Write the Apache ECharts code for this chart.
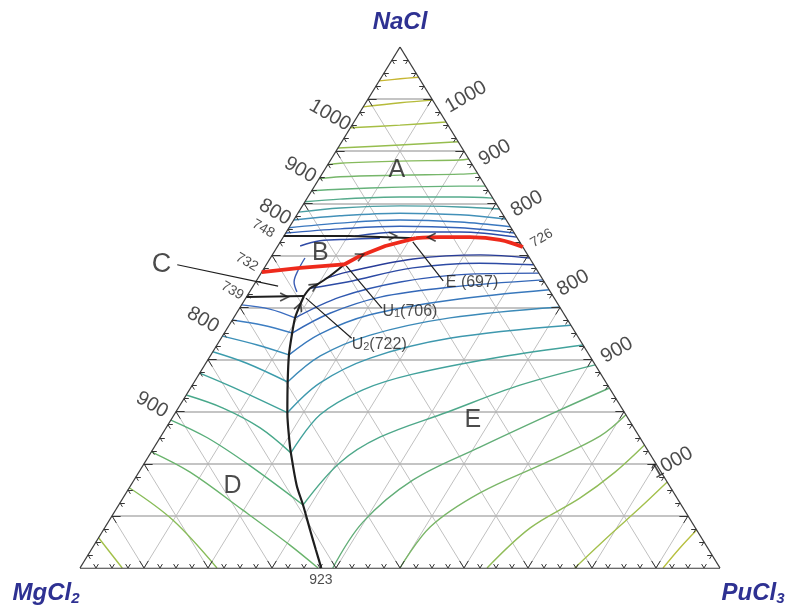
<!DOCTYPE html>
<html><head><meta charset="utf-8">
<script src="https://cdn.jsdelivr.net/npm/echarts/dist/echarts.min.js"></script>
<style>html,body{margin:0;padding:0;background:#fff}#c{width:788px;height:606px}</style>
</head><body><div id="c"></div>
<script>
// All compositions are mole % pairs [PuCl3, NaCl]; MgCl2 = 100 - PuCl3 - NaCl
const isoA = [
 [[0,93.5],[3.1,93.9],[5.8,94.2]],
 [[0,88.5],[5.4,89.3],[10.2,89.8]],
 [[0,84.5],[7.5,85.0],[14.4,85.6]],
 [[0,80.6],[9.4,81.2],[18.2,81.8]],
 [[0,77.4],[1.8,77.7],[10.9,78.1],[20.2,78.3],[21.5,78.5]],
 [[0,74.7],[3.1,75.1],[12.3,75.4],[21.6,75.6],[24.2,75.8]],
 [[0,72.4],[4.3,72.7],[13.4,73.1],[22.7,73.3],[26.7,73.3]],
 [[0,70.3],[5.2,70.8],[14.4,71.2],[23.8,71.2],[29.0,71.0]],
 [[0,68.3],[6.1,69.1],[15.3,69.5],[24.7,69.3],[31.1,68.9]],
 [[0,66.8],[6.8,67.6],[15.9,68.1],[25.5,67.8],[33.0,67.0]],
 [[0,65.3],[7.5,66.2],[16.6,66.8],[26.2,66.4],[34.5,65.5]],
 [[0,64.3],[8.1,65.1],[17.2,65.6],[26.7,65.3],[35.7,64.3]],
 [[11.1,63.7],[17.8,64.5],[27.1,64.5],[36.5,63.5]]
];
const isoB = [
 [[3.5,61.8],[6.1,62.8],[10.6,63.1],[15.2,63.3]],
 [[5.4,59.5],[5.5,57.2],[6.0,54.9],[7.4,53.0]]
];
const isoD = [
 [[0,50.5],[4.8,49.7],[9.6,48.0]],
 [[0,47.6],[5.3,46.6],[10.6,45.1]],
 [[0,44.5],[6.3,42.8],[12.2,40.9]],
 [[0,41.5],[6.4,39.3],[14.6,35.7]],
 [[0,37.4],[6.5,34.7],[17.5,29.8]],
 [[0,33.2],[7.0,30.7],[14.7,26.9],[21.9,22.1]],
 [[0,28.4],[7.4,25.0],[16.8,19.6],[28.8,12.1]],
 [[0,22.3],[8.0,18.4],[19.9,11.1],[30.6,4.4],[37.2,0]],
 [[0,15.4],[9.9,9.2],[21.4,0]],
 [[0,5.8],[6.6,0]]
];
const isoE = [
 [[10.5,55.5],[13.3,56.8],[22.4,59.3],[32.5,60.1],[40.5,59.5]],
 [[9.1,53.7],[14.3,54.9],[23.2,57.6],[33.2,58.5],[41.8,58.2]],
 [[9.6,48.0],[14.6,52.0],[22.6,54.9],[32.7,56.4],[43.4,56.6]],
 [[10.6,45.1],[14.6,48.9],[20.9,52.0],[30.8,53.9],[44.7,55.3]],
 [[12.2,40.9],[15.0,44.9],[21.0,48.6],[32.1,51.4],[46.6,53.4]],
 [[14.6,35.7],[17.2,40.7],[23.0,44.7],[33.8,48.0],[49.9,50.1]],
 [[17.5,29.8],[19.7,35.5],[25.2,40.3],[35.7,44.1],[53.4,46.6]],
 [[21.9,22.1],[22.8,29.4],[27.1,34.2],[33.4,37.2],[45.4,40.5],[57.2,42.8]],
 [[28.8,12.1],[30.5,20.2],[34.3,25.1],[42.4,29.9],[51.2,35.1],[61.0,39.0]],
 [[39.5,0],[39.8,8.8],[43.6,16.9],[50.9,23.2],[59.8,30.3],[65.4,34.5]],
 [[50,0],[50.8,7.9],[55.3,14.4],[62.8,20.3],[68.6,25.3],[70.6,29.4]],
 [[63.6,0],[66.5,7.7],[71.4,13.4],[74.4,18.4],[76.4,23.6]],
 [[77.3,0],[79.6,6.3],[81.7,11.5],[83.5,16.5]],
 [[91.1,0],[91.8,3.8],[92.7,7.3]]
];
// invariant / univariant lines
const red732 = [[0,56.8],[5.6,57.6],[11.2,58.2],[12.2,58.3],[13.8,59.9],[16.8,61.8],[20.8,63.3]];
const red726 = [[38.4,61.6],[34.1,63.0],[29.2,63.5],[24.5,63.5],[20.8,63.3]];
const line748 = [[0,63.7],[10.3,63.7],[20.8,63.3]];
const line739 = [[0,52.0],[8.9,52.2]];
const lineU2U1 = [[8.9,52.2],[9.1,53.7],[9.9,54.5],[11.0,56.0],[12.2,58.3]];
const lineDE = [[8.9,52.2],[9.2,50.1],[9.6,48.0],[10.6,45.1],[12.2,40.9],[14.6,35.7],[17.5,29.8],[20.4,24.6],[21.9,22.1],[25.9,15.9],[28.8,12.1],[32.3,7.3],[35.1,3.5],[37.7,0]];
const arrowPts = [[17.0,63.7],[5.9,52.0],[9.5,54.1],[13.8,59.9],[23.2,63.5],[9.2,50.1]];
const leaders = [
 [[20.7,62.6],[29.2,55.1]],
 [[12.6,58.0],[22.2,49.9]],
 [[9.4,51.8],[20.4,44.1]],
 [[-13.9,58.2],[3.9,54.1]]
];
const regionNames = ['A','B','C','D','E'];
const pointNames = ['E (697)','U{s|1}(706)','U{s|2}(722)','923'];
const tempsLeft = ['1000','900','800','748','732','739','800','900'];
const tempsRight = ['1000','900','800','726','800','900','1000'];

// ---------- layout / style ----------
const isoColA = ['#c6b632','#b6bb3a','#a6be44','#96bd4e','#86ba5c','#76b66a','#66b27a','#56aa8c','#4a9ea2','#4290b8','#3a78bf','#3462b8','#2c4ca8'];
const isoColB = ['#2f4aa6','#3a5cb4'];
const isoColD = ['#3a6cc0','#3d7ec2','#3c90b8','#3c9cac','#40a29a','#48a88a','#58ae7a','#6ab46c','#88bc58','#a2c048'];
const isoColE = ['#283c98','#2c4aa4','#3058b0','#3468b8','#3878bc','#3c8ab8','#3e98ae','#42a29c','#4ea88a','#62ae78','#7ab668','#90bc58','#a4c04c','#b8c040'];
const arrowDir = [0,0,32,25,180,68];
const regionPos = [[11.3,76.4],[7.3,60.5],[-16.4,58.3],[16.0,15.7],[47.2,28.4]];
const pointPos = [[33.9,54.7],[26.9,49.3],[25.3,42.9],[38.8,-2.3]];
const leftPos = [[-4.4,86.9],[-3.8,76.4],[-3.7,68.3],[-3.9,65.1],[-3.3,58.7],[-2.8,53.2],[-4.6,47.6],[-4.4,31.3]];
const rightPos = [[15.1,90.4],[25.0,79.7],[34.9,69.9],[40.5,63.3],[49.7,54.7],[63.0,41.8],[82.4,20.2]];
const FONT = '"Liberation Sans", Arial, Helvetica, sans-serif';

const P = ([pu, na]) => [(pu + na / 2) / 100, na / 100];

function lineS(pts, color, width, z, smooth) {
  return {type:'line', data: pts.map(P), showSymbol:false, symbol:'none', smooth: smooth || 0,
    lineStyle:{color, width}, z, silent:true, clip:false, animation:false};
}
function segS(segs, color, width, z) {
  return {type:'lines', coordinateSystem:'cartesian2d', polyline:false, silent:true, animation:false, z,
    data: segs.map(s => ({coords: s.map(P)})), lineStyle:{color, width, opacity:1}};
}
// ternary grid
const gH = [], gD = [];
for (let i = 1; i < 10; i++) {
  const v = i * 10;
  gH.push([[0, v], [100 - v, v]]);
  gD.push([[v, 0], [v, 100 - v]]);
  gD.push([[100 - v, 0], [0, 100 - v]]);
}
const tMaj = [], tMin = [];
for (let k = 1; k < 40; k++) {
  const v = k * 2.5, maj = k % 4 === 0, t = maj ? 1.35 : 0.75, arr = maj ? tMaj : tMin;
  arr.push([[v, 0], [v - t, t]], [[v, 0], [v, t]]);
  arr.push([[0, v], [t, v]], [[0, v], [t, v - t]]);
  arr.push([[100 - v, v], [100 - v - t, v]], [[100 - v, v], [100 - v, v - t]]);
}
const outline = [[[0,0],[100,0]],[[100,0],[0,100]],[[0,100],[0,0]]];

const series = [];
series.push(segS(gD, '#c0c0c0', 1, 1));
series.push(segS(gH, '#b0b0b0', 1.6, 1));
isoA.forEach((l, i) => series.push(lineS(l, isoColA[i], 1.4, 2, 0.35)));
isoB.forEach((l, i) => series.push(lineS(l, isoColB[i], 1.4, 2, 0.35)));
isoD.forEach((l, i) => series.push(lineS(l, isoColD[i], 1.4, 2, 0.35)));
isoE.forEach((l, i) => series.push(lineS(l, isoColE[i], 1.4, 2, 0.35)));
series.push(segS(tMaj, '#333', 1, 3));
series.push(segS(tMin, '#333', 1, 3));
series.push(segS(outline, '#3a3a3a', 1.3, 3));
series.push(lineS(line748, '#1e1e1e', 2, 4, 0));
series.push(lineS(line739, '#1e1e1e', 2, 4, 0));
series.push(lineS(lineU2U1, '#1e1e1e', 2, 4, 0.3));
series.push(lineS(lineDE, '#1e1e1e', 2.2, 4, 0.3));
leaders.forEach(l => series.push(lineS(l, '#1e1e1e', 1.2, 4, 0)));
series.push(lineS(red732, '#ee2a1c', 3.8, 5, 0));
series.push(lineS(red726, '#ee2a1c', 3.8, 5, 0.4));
series.push({type:'scatter', silent:true, animation:false, z:6, clip:false,
  symbol:'path://M0,0L9,5L0,10', symbolSize:[8,8],
  itemStyle:{color:'rgba(0,0,0,0)', borderColor:'#1e1e1e', borderWidth:1.6},
  data: arrowPts.map((p, i) => ({value:P(p), symbolRotate: arrowDir[i]}))});

function txtS(items) {
  return {type:'scatter', silent:true, animation:false, z:7, clip:false, symbolSize:0,
    data: items.map(it => ({value:P(it.pos), label:{show:true, position:'inside', formatter:it.text,
      rotate:it.rot || 0, fontSize:it.size, fontFamily:FONT, color:'#1e1e1e',
      rich:{s:{fontSize:11, fontFamily:FONT, color:'#1e1e1e', verticalAlign:'bottom', lineHeight:12}}}}))};
}
const txt = [];
regionNames.forEach((t, i) => txt.push({text:t, pos:regionPos[i], size: t === 'C' ? 27 : 25}));
pointNames.forEach((t, i) => txt.push({text:t, pos:pointPos[i], size: i === 3 ? 14 : 16}));
tempsLeft.forEach((t, i) => txt.push({text:t, pos:leftPos[i], size: (i >= 3 && i <= 5) ? 14 : 20, rot:-30}));
tempsRight.forEach((t, i) => txt.push({text:t, pos:rightPos[i], size: i === 3 ? 14 : 20, rot:30}));
series.push(txtS(txt));

const titleFont = 'italic bold 24px ' + FONT;
const chart = echarts.init(document.getElementById('c'), null, {renderer:'canvas'});
chart.setOption({
  animation:false,
  grid:{left:80, top:47, width:640, height:521},
  xAxis:{type:'value', min:0, max:1, show:false},
  yAxis:{type:'value', min:0, max:1, show:false},
  series,
  graphic:[
    {type:'text', x:400, y:22, style:{text:'NaCl', font:titleFont, fill:'#2e3192', align:'center', verticalAlign:'middle', textAlign:'center', textVerticalAlign:'middle'}},
    {type:'text', x:46, y:593, style:{text:'{m|MgCl}{s|2}', align:'center', verticalAlign:'middle', textAlign:'center', textVerticalAlign:'middle',
      rich:{m:{font:titleFont, fill:'#2e3192', lineHeight:26}, s:{font:'italic bold 15px ' + FONT, fill:'#2e3192', verticalAlign:'bottom', lineHeight:16}}}},
    {type:'text', x:753, y:593, style:{text:'{m|PuCl}{s|3}', align:'center', verticalAlign:'middle', textAlign:'center', textVerticalAlign:'middle',
      rich:{m:{font:titleFont, fill:'#2e3192', lineHeight:26}, s:{font:'italic bold 15px ' + FONT, fill:'#2e3192', verticalAlign:'bottom', lineHeight:16}}}}
  ]
});
</script></body></html>
